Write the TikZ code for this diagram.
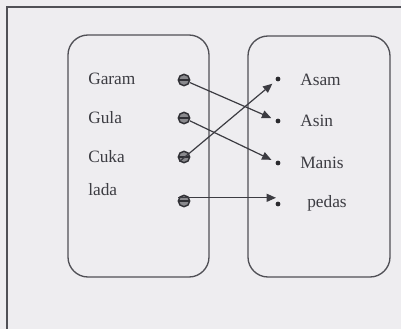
\documentclass[tikz,border=0pt]{standalone}
\usepackage{fontspec}
\setmainfont{Liberation Serif}
\usetikzlibrary{arrows.meta}
\definecolor{paper}{RGB}{238,237,240}
\definecolor{ink}{RGB}{60,60,66}
\definecolor{pen}{RGB}{80,80,86}
\tikzset{
  >={Triangle[length=7pt,width=6pt]},
  set/.style={draw=pen,line width=1pt,rounded corners=15pt},
  item/.style={anchor=west,text=ink,font=\fontsize{13}{15}\selectfont,inner sep=0pt},
  src/.style={circle,draw=ink!80!black,fill=ink!60,line width=1.1pt,minimum size=8.5pt,inner sep=0pt,
    path picture={\draw[ink!80!black,line width=0.8pt] (path picture bounding box.west) -- (path picture bounding box.east);}},
  dst/.style={circle,fill=ink!70!black,minimum size=3.6pt,inner sep=0pt},
  link/.style={->,draw=ink,line width=0.9pt,shorten >=3.5pt},
}
\begin{document}
\begin{tikzpicture}[x=0.75pt,y=-0.75pt]
  \useasboundingbox[fill=paper] (0,0) rectangle (401,329);
  % frame
  \draw[pen,line width=1.1pt] (7,329) -- (7,7) -- (401,7);
  % the two sets
  \draw[set] (68,35) rectangle (209,277);
  \draw[set] (248,36) rectangle (390,277);
  % domain
  \foreach \t/\n/\y/\d in {Garam/garam/79/80,Gula/gula/118/118,Cuka/cuka/157/157,lada/lada/190/201}{
    \node[item] (\n) at (88,\y) {\t};
    \node[src] (\n-pt) at (184,\d) {};
  }
  % codomain
  \foreach \t/\n/\x/\y/\d in {Asam/asam/300/80/79,Asin/asin/300/121/121,Manis/manis/300/163/163,pedas/pedas/307/203/204}{
    \node[item] (\n) at (\x,\y) {\t};
    \node[dst] (\n-pt) at (278,\d) {};
  }
  \coordinate (pedas-in) at (276,195);
  % mapping
  \draw[link] (garam-pt) -- (asin-pt);
  \draw[link] (gula-pt) -- (manis-pt);
  \draw[link] (cuka-pt.south west) -- (asam-pt);
  \draw[link,shorten >=0pt] (lada-pt.150) -- (lada-pt.150 -| pedas-in);
\end{tikzpicture}
\end{document}
